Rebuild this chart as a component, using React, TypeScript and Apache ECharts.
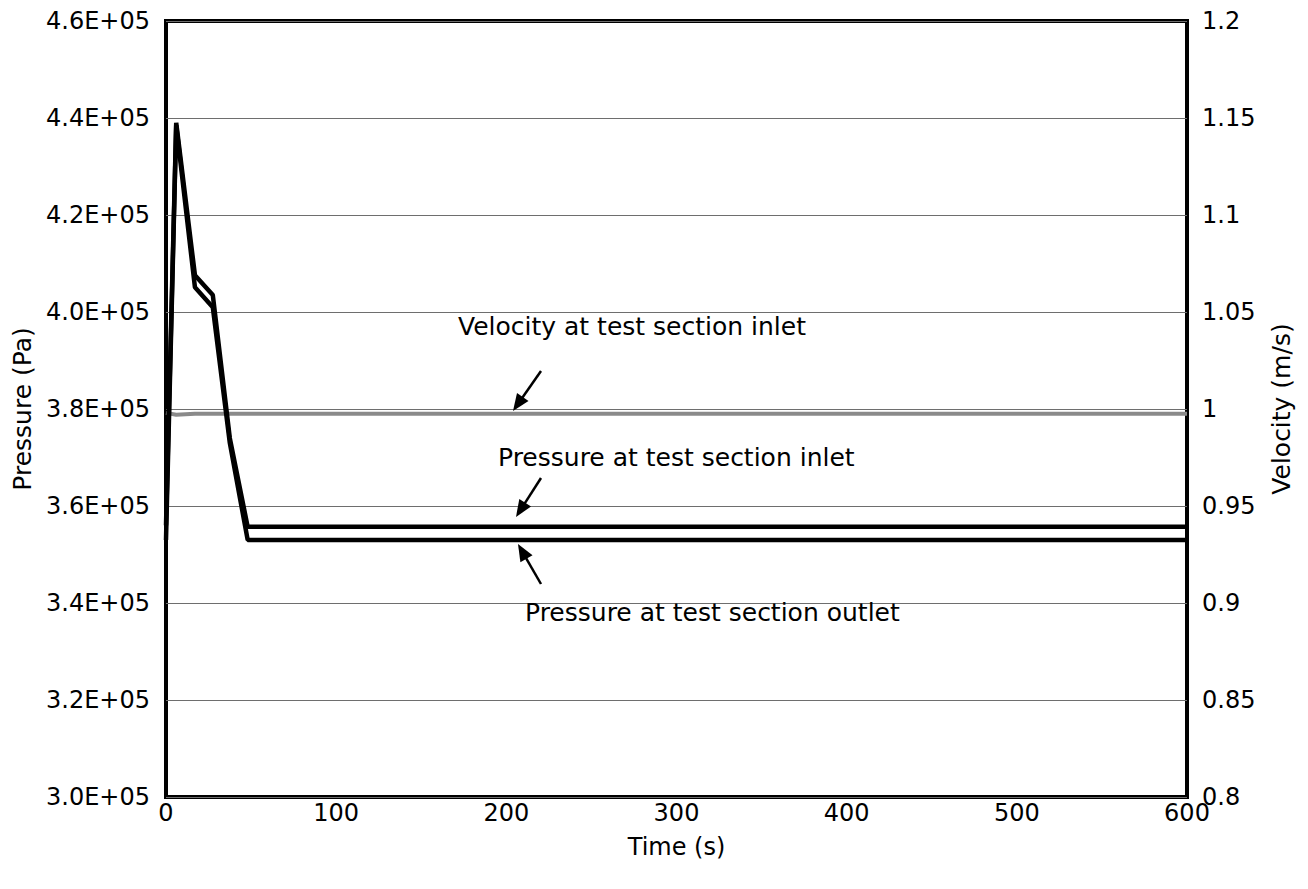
import { useEffect, useRef } from 'react';
import * as echarts from 'echarts';

// Time (s) of the pressure samples
const timeS = [0, 6, 17, 27.5, 37.5, 48, 600];
// Pressure at test section inlet (Pa)
const pInlet = [3.56e5, 4.39e5, 4.076e5, 4.035e5, 3.74e5, 3.557e5, 3.557e5];
// Pressure at test section outlet (Pa)
const pOutlet = [3.53e5, 4.385e5, 4.051e5, 4.01e5, 3.73e5, 3.53e5, 3.53e5];
// Velocity samples
const velTime = [0, 6, 17, 600];
const velocity = [0.998, 0.997, 0.9975, 0.9975];

const xTickLabels = ['0', '100', '200', '300', '400', '500', '600'];
const pressureTickLabels = ['3.0E+05', '3.2E+05', '3.4E+05', '3.6E+05', '3.8E+05', '4.0E+05', '4.2E+05', '4.4E+05', '4.6E+05'];
const velocityTickLabels = ['0.8', '0.85', '0.9', '0.95', '1', '1.05', '1.1', '1.15', '1.2'];

const FONT = '"DejaVu Sans", "Liberation Sans", sans-serif';

function arrow(tail: number[], tip: number[]) {
  const dx = tip[0] - tail[0];
  const dy = tip[1] - tail[1];
  const len = Math.sqrt(dx * dx + dy * dy);
  const ux = dx / len;
  const uy = dy / len;
  const hl = 17;
  const hw = 7;
  const bx = tip[0] - ux * hl;
  const by = tip[1] - uy * hl;
  return [
    {
      type: 'line',
      shape: { x1: tail[0], y1: tail[1], x2: bx + ux * 2, y2: by + uy * 2 },
      style: { stroke: '#000', lineWidth: 2.5 },
      z: 100,
    },
    {
      type: 'polygon',
      shape: {
        points: [
          [tip[0], tip[1]],
          [bx - uy * hw, by + ux * hw],
          [bx + uy * hw, by - ux * hw],
        ],
      },
      style: { fill: '#000' },
      z: 100,
    },
  ];
}

function label(text: string, x: number, y: number) {
  return {
    type: 'text',
    style: { text, x, y, fill: '#000', font: `25px ${FONT}`, align: 'left', verticalAlign: 'middle' },
    z: 100,
  };
}

export default function App() {
  const ref = useRef<HTMLDivElement>(null);
  useEffect(() => {
    document.body.style.margin = '0';
    if (!ref.current) return;
    const chart = echarts.init(ref.current, null, { renderer: 'svg' });
    const tickFont = { fontFamily: FONT, fontSize: 24, color: '#000' };
    chart.setOption({
      animation: false,
      backgroundColor: '#fff',
      grid: {
        left: 166,
        right: 121,
        top: 21,
        bottom: 92,
        show: true,
        borderColor: '#000',
        borderWidth: 4,
        backgroundColor: 'transparent',
      },
      xAxis: {
        type: 'value',
        min: 0,
        max: 600,
        interval: 100,
        name: 'Time (s)',
        nameLocation: 'middle',
        nameGap: 38,
        nameTextStyle: { fontFamily: FONT, fontSize: 24, color: '#000' },
        axisLine: { show: false },
        axisTick: { show: false },
        splitLine: { show: false },
        axisLabel: {
          ...tickFont,
          margin: 4,
          formatter: (_v: number, i: number) => xTickLabels[i],
        },
      },
      yAxis: [
        {
          type: 'value',
          min: 3.0e5,
          max: 4.6e5,
          interval: 2e4,
          name: 'Pressure (Pa)',
          nameLocation: 'middle',
          nameRotate: 90,
          nameGap: 126,
          nameTextStyle: { fontFamily: FONT, fontSize: 25, color: '#000' },
          axisLine: { show: false },
          axisTick: { show: false },
          splitLine: { show: true, lineStyle: { color: '#6e6e6e', width: 1 } },
          axisLabel: {
            ...tickFont,
            margin: 16,
            formatter: (_v: number, i: number) => pressureTickLabels[i],
          },
        },
        {
          type: 'value',
          min: 0.8,
          max: 1.2,
          interval: 0.05,
          position: 'right',
          name: 'Velocity (m/s)',
          nameLocation: 'middle',
          nameRotate: 90,
          nameGap: 82,
          nameTextStyle: { fontFamily: FONT, fontSize: 25, color: '#000' },
          axisLine: { show: false },
          axisTick: { show: false },
          splitLine: { show: false },
          axisLabel: {
            ...tickFont,
            margin: 15,
            formatter: (_v: number, i: number) => velocityTickLabels[i],
          },
        },
      ],
      series: [
        {
          name: 'Velocity at test section inlet',
          type: 'line',
          yAxisIndex: 1,
          showSymbol: false,
          data: velTime.map((t, i) => [t, velocity[i]]),
          lineStyle: { color: '#8a8a8a', width: 4 },
          z: 3,
        },
        {
          name: 'Pressure at test section inlet',
          type: 'line',
          yAxisIndex: 0,
          showSymbol: false,
          data: timeS.map((t, i) => [t, pInlet[i]]),
          lineStyle: { color: '#000', width: 4.5 },
          z: 4,
        },
        {
          name: 'Pressure at test section outlet',
          type: 'line',
          yAxisIndex: 0,
          showSymbol: false,
          data: timeS.map((t, i) => [t, pOutlet[i]]),
          lineStyle: { color: '#000', width: 4.5 },
          z: 4,
        },
      ],
      graphic: [
        label('Velocity at test section inlet', 458, 326),
        label('Pressure at test section inlet', 498, 457),
        label('Pressure at test section outlet', 525, 612),
        ...arrow([541, 371], [513, 411]),
        ...arrow([541, 478], [516, 517]),
        ...arrow([541, 584], [518, 544]),
      ],
    });
    return () => chart.dispose();
  }, []);
  return <div ref={ref} style={{ width: 1308, height: 889 }} />;
}
